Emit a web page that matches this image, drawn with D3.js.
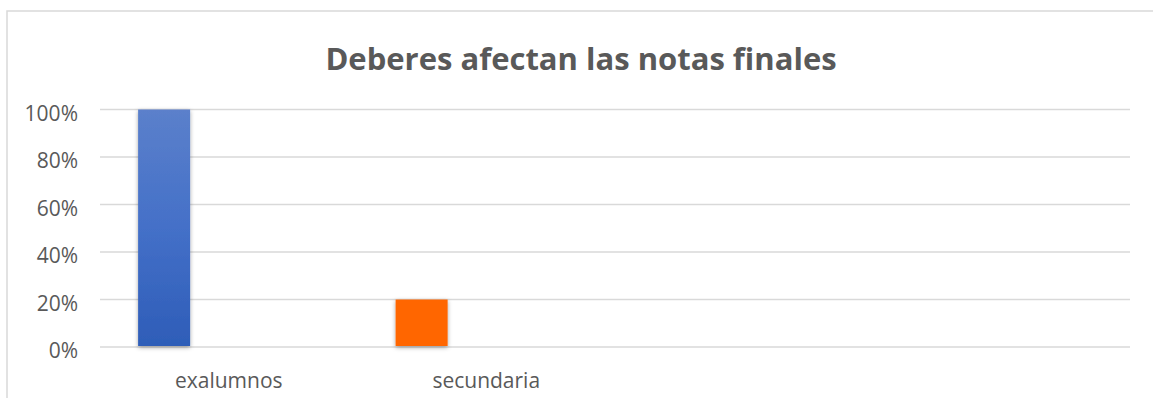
<!DOCTYPE html>
<html>
<head>
<meta charset="utf-8">
<script src="https://cdn.jsdelivr.net/npm/d3@7"></script>
<style>
  html, body { margin: 0; padding: 0; background: #fff; }
  svg { display: block; }
  text { font-family: "Open Sans", "Noto Sans", sans-serif; }
</style>
</head>
<body>
<svg id="chart" width="1153" height="398"></svg>
<script>
// Chart data
const title = "Deberes afectan las notas finales";
const categories = ["exalumnos", "secundaria", "", ""];
const values = [1.0, 0.2, null, null];
const barColors = ["blue", "#ff6600"];
const yTicks = [0, 0.2, 0.4, 0.6, 0.8, 1.0];

const svg = d3.select("#chart");
const W = 1153, H = 398;
const plot = { left: 100, right: 1130, top: 109.5, bottom: 347 };

// Defs: blue gradient and soft drop shadow for the bars
const defs = svg.append("defs");
const grad = defs.append("linearGradient")
  .attr("id", "blueGrad").attr("x1", 0).attr("y1", 0).attr("x2", 0).attr("y2", 1);
grad.append("stop").attr("offset", "0%").attr("stop-color", "#5b80cb");
grad.append("stop").attr("offset", "50%").attr("stop-color", "#4470c8");
grad.append("stop").attr("offset", "100%").attr("stop-color", "#2e5db8");

const shadow = defs.append("filter").attr("id", "barShadow")
  .attr("x", "-30%").attr("y", "-10%").attr("width", "160%").attr("height", "130%");
shadow.append("feDropShadow")
  .attr("dx", 0).attr("dy", 1.5).attr("stdDeviation", 2)
  .attr("flood-color", "#000").attr("flood-opacity", 0.35);

// Outer chart frame
svg.append("rect")
  .attr("x", 7).attr("y", 11).attr("width", W + 10).attr("height", H + 10)
  .attr("fill", "#fff").attr("stroke", "#d9d9d9").attr("stroke-width", 1.5);

// Title
svg.append("text")
  .attr("x", 581).attr("y", 70)
  .attr("text-anchor", "middle")
  .attr("font-size", 31).attr("font-weight", "bold")
  .attr("fill", "#595959")
  .text(title);

// Scales
const x = d3.scaleBand()
  .domain(d3.range(categories.length))
  .range([plot.left, plot.right])
  .paddingInner(0).paddingOuter(0);

const y = d3.scaleLinear().domain([0, 1]).range([plot.bottom, plot.top]);

// Gridlines
svg.append("g").selectAll("line")
  .data(yTicks).join("line")
  .attr("x1", plot.left).attr("x2", plot.right)
  .attr("y1", d => y(d)).attr("y2", d => y(d))
  .attr("stroke", "#d9d9d9").attr("stroke-width", 1.5);

// Y axis labels
const yAxis = d3.axisLeft(y).tickValues(yTicks).tickFormat(d3.format(".0%")).tickSize(0).tickPadding(0);
const yg = svg.append("g").attr("transform", `translate(78,0)`).call(yAxis);
yg.select(".domain").remove();
yg.selectAll("text")
  .attr("font-family", "Open Sans, Noto Sans, sans-serif")
  .attr("font-size", 21).attr("fill", "#595959").attr("dy", "0.5em");

// Category labels
const xAxis = d3.axisBottom(x).tickFormat(i => categories[i]).tickSize(0).tickPadding(0);
const xg = svg.append("g").attr("transform", `translate(0,${plot.bottom})`).call(xAxis);
xg.select(".domain").remove();
xg.selectAll("text")
  .attr("font-family", "Open Sans, Noto Sans, sans-serif")
  .attr("font-size", 21).attr("fill", "#595959")
  .attr("y", 41).attr("dy", 0);

// Bars
const barOffset = x.bandwidth() * 0.148;
const barWidth = x.bandwidth() * 0.202;
svg.append("g").selectAll("rect")
  .data(values.map((v, i) => ({ v, i })).filter(d => d.v != null))
  .join("rect")
  .attr("x", d => x(d.i) + barOffset)
  .attr("width", barWidth)
  .attr("y", d => y(d.v))
  .attr("height", d => y(0) - y(d.v) - 1)
  .attr("fill", d => d.i === 0 ? "url(#blueGrad)" : barColors[1])
  .attr("filter", "url(#barShadow)");
</script>
</body>
</html>
